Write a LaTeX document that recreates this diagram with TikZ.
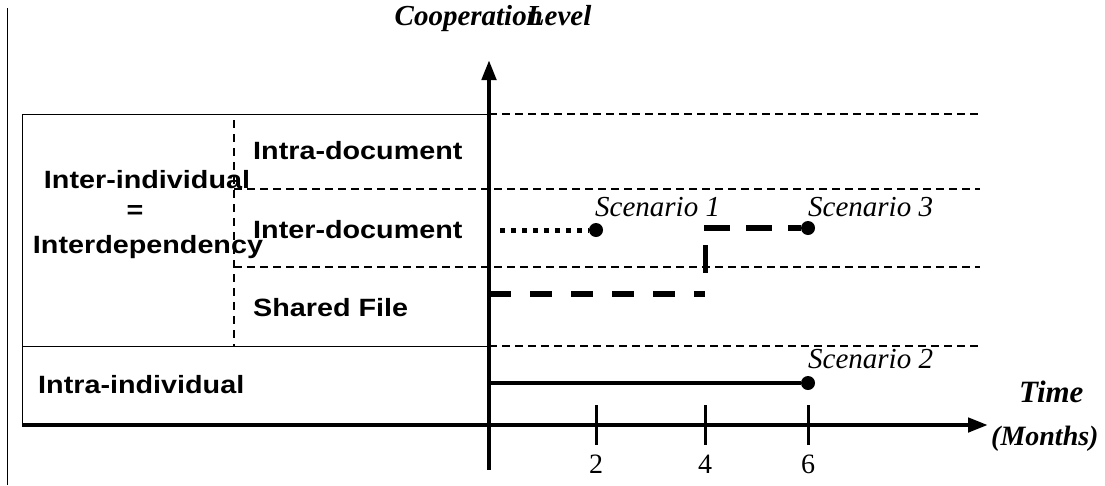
\documentclass[tikz,border=0pt]{standalone}
\usepackage{fontspec}
\setmainfont{Liberation Serif}
\newfontfamily\labfont[FakeStretch=1.15]{Liberation Sans}
\usetikzlibrary{arrows.meta}
\tikzset{
  thinline/.style={line width=1pt},
  grid/.style={line width=1.3pt, dash pattern=on 8pt off 5pt},
  axis/.style={line width=4.5pt, -{Triangle[length=20pt,width=14pt]}},
  lab/.style={font=\labfont\bfseries\fontsize{25}{29}\selectfont, inner sep=0pt},
  scen/.style={font=\itshape\fontsize{29}{33}\selectfont, inner sep=0pt, anchor=base west},
  ttl/.style={font=\bfseries\itshape\fontsize{31}{35}\selectfont, inner sep=0pt},
  num/.style={font=\fontsize{28}{32}\selectfont, inner sep=0pt},
  dotpt/.style={circle, fill=black, inner sep=0pt, minimum size=14pt},
  tick/.style={line width=3pt},
  bigdash/.style={line width=6pt, dash pattern=on 22pt off 19pt},
  bigdash3/.style={line width=6pt, dash pattern=on 26pt off 16pt},
  dotline/.style={line width=5pt, dash pattern=on 5pt off 6pt},
}
\begin{document}
\begin{tikzpicture}[x=1pt,y=-1pt]
\useasboundingbox (0,0) rectangle (1105,485);
% left frame line
\draw[thinline] (7,8) -- (7,485);
% coordinates
\coordinate (O) at (489,425);
\coordinate (B) at (489,470);
\coordinate (Ytop) at (489,60);
\coordinate (Xl) at (22,425);
\coordinate (Xr) at (988,425);
% box
\draw[thinline] (489,114) -- (22,114) -- (22,425);
\draw[thinline] (22,346) -- (489,346);
% dashed grid
\draw[grid] (489,114) -- (980,114);
\draw[grid] (234,189) -- (980,189);
\draw[grid] (234,267) -- (980,267);
\draw[grid] (489,346) -- (980,346);
\draw[grid, dash pattern=on 8pt off 6pt] (234,120) -- (234,346);
% axes
\draw[axis] (Xl) -- (Xr);
\draw[axis] (B) -- (Ytop);
% ticks
\foreach \x/\n in {596/2,705/4,808/6}{
  \draw[tick] (\x,405) -- (\x,445);
  \node[num] (n\n) at (\x,464) {\n};
}
% labels
\node[lab, anchor=west] (intradoc) at (253,151) {Intra-document};
\node[lab, anchor=west] (interdoc) at (253,230) {Inter-document};
\node[lab, anchor=west] (shared) at (253,308) {Shared File};
\node[lab] (interind) at (147,180) {Inter-individual};
\node[lab] (eq) at (135,212) {=};
\node[lab] (interdep) at (148,247) {Interdependency};
\node[lab, anchor=west] (intraind) at (38,385) {Intra-individual};
% titles
\node[ttl, font=\bfseries\itshape\fontsize{29}{33}\selectfont] (coop) at (493,19) {Cooperation\kern-0.55em Level};
\node[ttl, anchor=west] (time) at (1019,392) {Time};
\node[ttl, anchor=west, font=\bfseries\itshape\fontsize{28}{32}\selectfont] (months) at (991,439) {(Months)};
% scenario 1
\node[dotpt] (d1) at (596,230) {};
\coordinate (s1) at (500,230);
\draw[dotline] (s1) -- (d1);
\node[scen] (sc1) at (595,216) {Scenario 1};
% scenario 3
\coordinate (a0) at (489,294);
\coordinate (a1) at (705,294);
\draw[bigdash] (a0) -- (a1);
\coordinate (v0) at (705,245);
\coordinate (v1) at (705,273);
\draw[line width=5pt] (v0) -- (v1);
\coordinate (a2) at (704,228);
\node[dotpt] (d3) at (808,228) {};
\draw[bigdash3] (a2) -- (d3);
\node[scen] (sc3) at (808,216) {Scenario 3};
% scenario 2
\coordinate (c0) at (489,383);
\node[dotpt] (d2) at (808,383) {};
\draw[line width=4pt] (c0) -- (d2);
\node[scen] (sc2) at (808,368) {Scenario 2};
\end{tikzpicture}
\end{document}
